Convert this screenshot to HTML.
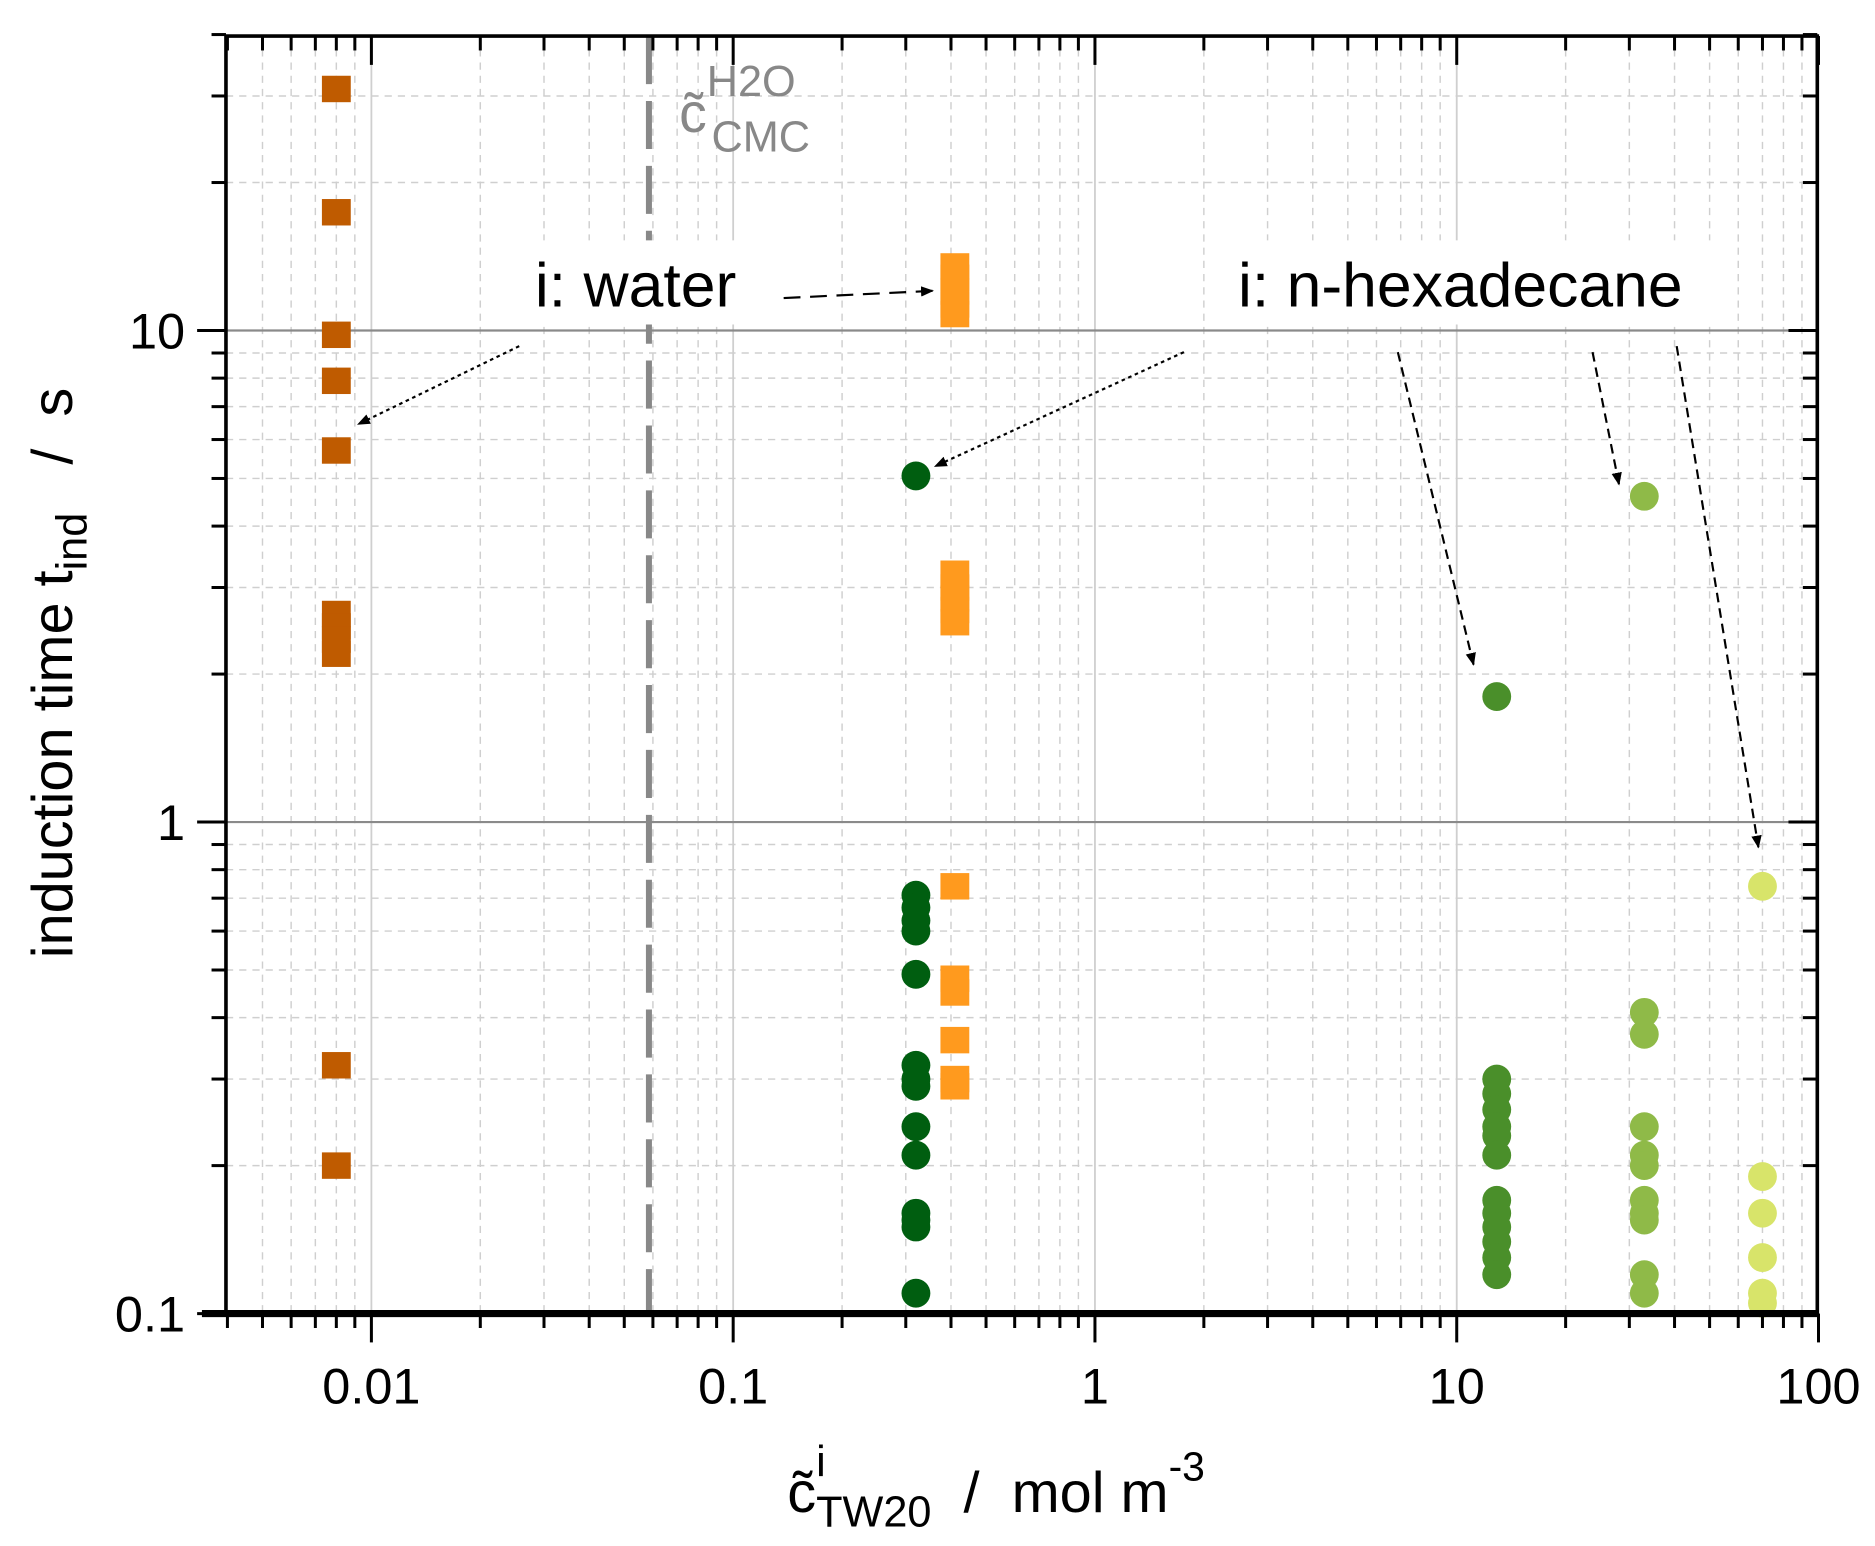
<!DOCTYPE html>
<html><head><meta charset="utf-8"><style>
html,body{margin:0;padding:0;background:#fff}
svg{display:block}
text{font-family:"Liberation Sans",Arial,sans-serif}
</style></head><body>
<svg id="chart" width="1875" height="1546" viewBox="0 0 1560 1286.4" preserveAspectRatio="none" xmlns="http://www.w3.org/2000/svg">
<defs>
<marker id="ah" viewBox="0 0 10 10" refX="9" refY="5" markerWidth="6" markerHeight="6" orient="auto"><path d="M0,1 L10,5 L0,9 z" fill="#000"/></marker>
</defs>
<g id="grid"></g>
<g id="marks"></g>
<g id="annot"></g>
<g id="axes"></g>
</svg>
<script>
const xTickVals=[0.01,0.1,1,10,100];
const xTickLabels=["0.01","0.1","1","10","100"];
const yTickVals=[0.1,1,10];
const yTickLabels=["0.1","1","10"];
const cmcX=0.0585;
const waterAirX=[0.008];
const waterAirY=[31,17.4,9.8,7.9,5.7,2.65,2.5,2.35,2.2,0.32,0.2];
const waterOilX=[0.41];
const waterOilY=[13.5,12.8,12,11.3,10.8,3.2,3.0,2.85,2.7,2.55,0.74,0.48,0.45,0.36,0.30,0.29];
const hexA_X=[0.32];
const hexA_Y=[5.06,0.71,0.67,0.63,0.60,0.49,0.32,0.30,0.29,0.24,0.21,0.16,0.155,0.15,0.11];
const hexB_X=[12.9];
const hexB_Y=[1.8,0.30,0.28,0.26,0.24,0.23,0.21,0.17,0.16,0.15,0.14,0.13,0.12];
const hexC_X=[33];
const hexC_Y=[4.6,0.41,0.37,0.24,0.21,0.20,0.17,0.16,0.155,0.12,0.11];
const hexD_X=[70];
const hexD_Y=[0.74,0.19,0.16,0.13,0.11,0.105];

const L=188,R=1512,T=30,B=1093;
const xMin=0.004,xMax=100,yMin=0.1,yMax=40;
function X(v){return 911+301*Math.log10(v);}
function Y(v){return 684-409*Math.log10(v);}
const NS="http://www.w3.org/2000/svg";
function mk(tag,attrs,parent){const e=document.createElementNS(NS,tag);for(const k in attrs)e.setAttribute(k,attrs[k]);parent.appendChild(e);return e;}
const grid=document.getElementById('grid'),marks=document.getElementById('marks'),annot=document.getElementById('annot'),axes=document.getElementById('axes');

for(let d=-3;d<=2;d++){for(let m=1;m<10;m++){const v=m*Math.pow(10,d);if(v<=xMin||v>=xMax)continue;const x=X(v);
 const g=mk('line',{x1:x,y1:T,x2:x,y2:B,stroke:'#cfcfcf','stroke-width':m==1?1.5:1.2,'stroke-dasharray':m==1?'':'6 5'},grid);
 }}
for(let d=-1;d<=1;d++){for(let m=1;m<10;m++){const v=m*Math.pow(10,d);if(v<=yMin||v>=yMax)continue;const y=Y(v);
 const g=mk('line',{x1:L,y1:y,x2:R,y2:y,stroke:m==1?'#8a8a8a':'#cfcfcf','stroke-width':m==1?1.8:1.2,'stroke-dasharray':m==1?'':'6 5'},grid);
 }}
const cl=mk('line',{x1:X(cmcX),y1:T,x2:X(cmcX),y2:B,stroke:'#888','stroke-width':5,'stroke-dasharray':'40 14'},grid);


function squares(xs,ys,color,name){ys.forEach(v=>{const r=mk('rect',{x:X(xs[0])-12,y:Y(v)-11,width:24,height:22,fill:color},marks);
 });}
function circles(xs,ys,color,name){ys.forEach(v=>{const c=mk('circle',{cx:X(xs[0]),cy:Y(v),r:12,fill:color},marks);
 });}
squares(waterAirX,waterAirY,'#bf5b00','water-air-point');
squares(waterOilX,waterOilY,'#ff9a1e','water-oil-point');
circles(hexA_X,hexA_Y,'#005e10','hexadecane-a-point');
circles(hexB_X,hexB_Y,'#4a8f2a','hexadecane-b-point');
circles(hexC_X,hexC_Y,'#8fba48','hexadecane-c-point');
circles(hexD_X,hexD_Y,'#d8e46a','hexadecane-d-point');

let r1=mk('rect',{x:438,y:200,width:196,height:70,fill:'#fff'},annot);
let r2=mk('rect',{x:1022,y:200,width:408,height:70,fill:'#fff'},annot);
let t1=mk('text',{x:445,y:255,'font-size':52,fill:'#000'},annot);t1.textContent='i: water';
let t2=mk('text',{x:1030,y:255,'font-size':52,fill:'#000'},annot);t2.textContent='i: n-hexadecane';
const arrows=[[432,288,298,353,'3 3'],[652,248,776,242,'14 8'],[985,293,778,388,'3 3'],[1163,293,1226,553,'8 5'],[1325,293,1347,403,'8 5'],[1395,288,1463,705,'8 5']];
arrows.forEach(a=>{const l=mk('line',{x1:a[0],y1:a[1],x2:a[2],y2:a[3],stroke:'#000','stroke-width':1.8,'stroke-dasharray':a[4],'marker-end':'url(#ah)'},annot);
 });
let cm=mk('text',{x:565,y:110,'font-size':46,fill:'#888'},annot);
cm.innerHTML='c̃<tspan dy="-30" font-size="36">H2O</tspan><tspan dx="-70" dy="46" font-size="36">CMC</tspan>';

let fr=mk('rect',{x:L,y:T,width:R-L,height:B-T,fill:'none',stroke:'#000','stroke-width':3},axes);
mk('line',{x1:L-20,y1:B,x2:R,y2:B,stroke:'#000','stroke-width':6},axes);
for(let d=-3;d<=2;d++){for(let m=1;m<10;m++){const v=m*Math.pow(10,d);if(v<xMin||v>xMax)continue;const x=X(v);const len=m==1?24:12;
 let t=mk('line',{x1:x,y1:B,x2:x,y2:B+len,stroke:'#000','stroke-width':2.5},axes);
 let t2=mk('line',{x1:x,y1:T,x2:x,y2:T+len,stroke:'#000','stroke-width':2.5},axes);}}
for(let d=-1;d<=1;d++){for(let m=1;m<10;m++){const v=m*Math.pow(10,d);if(v<yMin||v>yMax)continue;const y=Y(v);const len=m==1?24:12;
 let t=mk('line',{x1:L-len,y1:y,x2:L,y2:y,stroke:'#000','stroke-width':2.5},axes);
 let t2=mk('line',{x1:R-len,y1:y,x2:R,y2:y,stroke:'#000','stroke-width':2.5},axes);}}
xTickVals.forEach((v,i)=>{let t=mk('text',{x:X(v),y:1168,'font-size':42,'text-anchor':'middle',fill:'#000'},axes);t.textContent=xTickLabels[i];});
yTickVals.forEach((v,i)=>{let t=mk('text',{x:154,y:Y(v)+15,'font-size':42,'text-anchor':'end',fill:'#000'},axes);t.textContent=yTickLabels[i];});
let xl=mk('text',{x:655,y:1258,'font-size':48,fill:'#000'},axes);
xl.innerHTML='c̃<tspan dy="-30" font-size="36">i</tspan><tspan dx="-8" dy="42" font-size="36">TW20</tspan><tspan dy="-12">&#160;&#160;/&#160;&#160;mol m</tspan><tspan dy="-26" font-size="34">-3</tspan>';
let yl=mk('text',{transform:'translate(60,560) rotate(-90)','font-size':48,'text-anchor':'middle',fill:'#000'},axes);
yl.innerHTML='induction time t<tspan dy="12" font-size="36">ind</tspan><tspan dy="-12">&#160;&#160;&#160;/&#160;&#160;s</tspan>';
</script>
</body></html>
